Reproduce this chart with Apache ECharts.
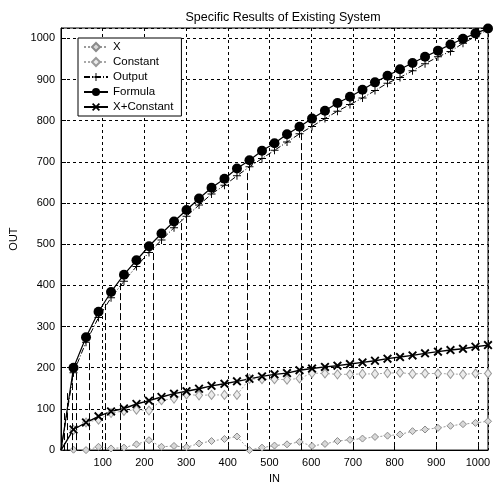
<!DOCTYPE html>
<html>
<head>
<meta charset="utf-8">
<script src="https://cdn.jsdelivr.net/npm/echarts@6/dist/echarts.min.js"></script>
<style>
html,body{margin:0;padding:0;background:#fff;}
#chart{width:496px;height:489px;}
</style>
</head>
<body>
<div id="chart"></div>
<script>
// 输入 IN
var inValues = [0, 30, 60, 90, 120, 151, 181, 211, 241, 271, 301, 331, 361, 392, 422, 452, 482, 512,
	542, 572, 602, 633, 663, 693, 723, 753, 783, 813, 843, 873, 904, 934, 964, 994, 1024];

// 各条曲线
var xVals = [0, 1, 0, 8, 4, 6, 14, 24, 8, 10, 7, 16, 22, 27, 33, 0, 6, 11,
	14, 20, 10, 15, 22, 25, 28, 32, 35, 38, 46, 50, 54, 59, 63, 66, 70];
var constantVals = [0, 49, 67, 74, 90, 95, 98, 96, 121, 125, 135, 133, 134, 134, 134, 173, 172, 172,
	171, 174, 187, 186, 184, 184, 185, 185, 187, 188, 185, 186, 186, 185, 184, 186, 186];
var outputVals = [0, 188, 262, 322, 370, 410, 446, 480, 510, 540, 568, 595, 622, 643, 666, 688, 708, 728,
	748, 768, 786, 805, 823, 839, 855, 873, 891, 905, 921, 938, 955, 968, 988, 1004, 1022];
var formulaVals = [0, 200, 274, 336, 384, 426, 461, 495, 526, 555, 583, 611, 637, 659, 684, 704, 727, 745,
	767, 785, 805, 824, 843, 858, 875, 893, 909, 925, 940, 955, 970, 985, 999, 1012, 1024];
var xPlusConstVals = [0, 50, 67, 82, 94, 101, 112, 120, 129, 137, 143, 149, 156, 161, 167, 173, 179, 184,
	187, 194, 198, 202, 205, 209, 213, 217, 222, 226, 230, 235, 239, 243, 246, 251, 255];

// 竖直虚线 (位置, 顶端)
var dropX = [8, 15, 28, 36, 68, 106, 142, 222, 288, 447, 575];
var dropTop = [100, 140, 195, 215, 285, 355, 410, 500, 560, 675, 770];

// 原点不画标记
function pairs(ys){
	var out = [];
	for (var i = 0; i < inValues.length; i++) {
		if (inValues[i] === 0) out.push({value: [inValues[i], ys[i]], symbol: 'none'});
		else out.push([inValues[i], ys[i]]);
	}
	return out;
}

var plusPath = 'path://M4.4,0H5.6V4.4H10V5.6H5.6V10H4.4V5.6H0V4.4H4.4Z';
var crossPath = 'path://M0,1.5L1.5,0L5,3.5L8.5,0L10,1.5L6.5,5L10,8.5L8.5,10L5,6.5L1.5,10L0,8.5L3.5,5Z';

var font = 'Liberation Sans, Arial, sans-serif';

var myChart = echarts.init(document.getElementById('chart'));

var dropLines = [];
for (var k = 0; k < dropX.length; k++) {
	dropLines.push([{coord: [dropX[k], 0]}, {coord: [dropX[k], dropTop[k]]}]);
}

var axisCommon = {
	type: 'value',
	min: 0,
	interval: 100,
	axisLine: {show: true, lineStyle: {color: '#000', width: 1}},
	axisTick: {show: true, inside: true, length: 5, lineStyle: {color: '#000'}},
	splitLine: {show: true, lineStyle: {color: '#000', type: [3, 3], width: 1}},
	axisLabel: {color: '#000', fontFamily: font, fontSize: 11, showMaxLabel: false,
		formatter: function(v){ return String(v); }},
	nameTextStyle: {color: '#000', fontFamily: font, fontSize: 11}
};

var option = {
	animation: false,
	backgroundColor: '#fff',
	title: {
		text: 'Specific Results of Existing System',
		left: 278, top: 6, textAlign: 'center',
		textStyle: {fontFamily: font, fontSize: 12.5, fontWeight: 'normal', color: '#000'}
	},
	grid: {left: 60, top: 28, width: 428, height: 430, show: true, borderColor: '#000', borderWidth: 1, backgroundColor: 'transparent'},
	legend: {
		orient: 'vertical', left: 78, top: 38,
		backgroundColor: '#fff', borderColor: '#000', borderWidth: 1,
		padding: [3, 8, 3, 5], itemGap: 3, itemWidth: 24, itemHeight: 10,
		textStyle: {fontFamily: font, fontSize: 11.5, color: '#000'},
		data: ['X', 'Constant', 'Output', 'Formula', 'X+Constant']
	},
	xAxis: Object.assign({}, axisCommon, {
		max: 1024, name: 'IN', nameLocation: 'middle', nameGap: 22,
		axisLabel: Object.assign({}, axisCommon.axisLabel, {showMinLabel: false, margin: 7})
	}),
	yAxis: Object.assign({}, axisCommon, {
		max: 1025, name: 'OUT', nameLocation: 'middle', nameGap: 42, nameRotate: 90,
		axisLabel: Object.assign({}, axisCommon.axisLabel, {margin: 6})
	}),
	series: [
		{
			name: 'X', type: 'line', data: pairs(xVals),
			symbol: 'diamond', symbolSize: 7,
			lineStyle: {color: '#9a9a9a', width: 1, type: [2, 2]},
			itemStyle: {color: '#d8d8d8', borderColor: '#8a8a8a', borderWidth: 1}
		},
		{
			name: 'Constant', type: 'line', data: pairs(constantVals),
			symbol: 'diamond', symbolSize: [7, 9],
			lineStyle: {color: '#a8a8a8', width: 1, type: [2, 2]},
			itemStyle: {color: '#ececec', borderColor: '#9a9a9a', borderWidth: 1}
		},
		{
			name: 'Output', type: 'line', data: pairs(outputVals),
			symbol: plusPath, symbolSize: 8,
			lineStyle: {color: '#000', width: 1, type: [6, 2, 1, 2]},
			itemStyle: {color: '#000'},
			markLine: {
				silent: true, symbol: ['none', 'none'], label: {show: false},
				lineStyle: {color: '#000', width: 1, type: [7, 3]},
				data: dropLines
			}
		},
		{
			name: 'Formula', type: 'line', data: pairs(formulaVals),
			symbol: 'circle', symbolSize: 10,
			lineStyle: {color: '#000', width: 1.2},
			itemStyle: {color: '#000'}
		},
		{
			name: 'X+Constant', type: 'line', data: pairs(xPlusConstVals),
			symbol: crossPath, symbolSize: 9,
			lineStyle: {color: '#000', width: 1.4},
			itemStyle: {color: '#000'}
		}
	]
};

myChart.setOption(option);
</script>
</body>
</html>
